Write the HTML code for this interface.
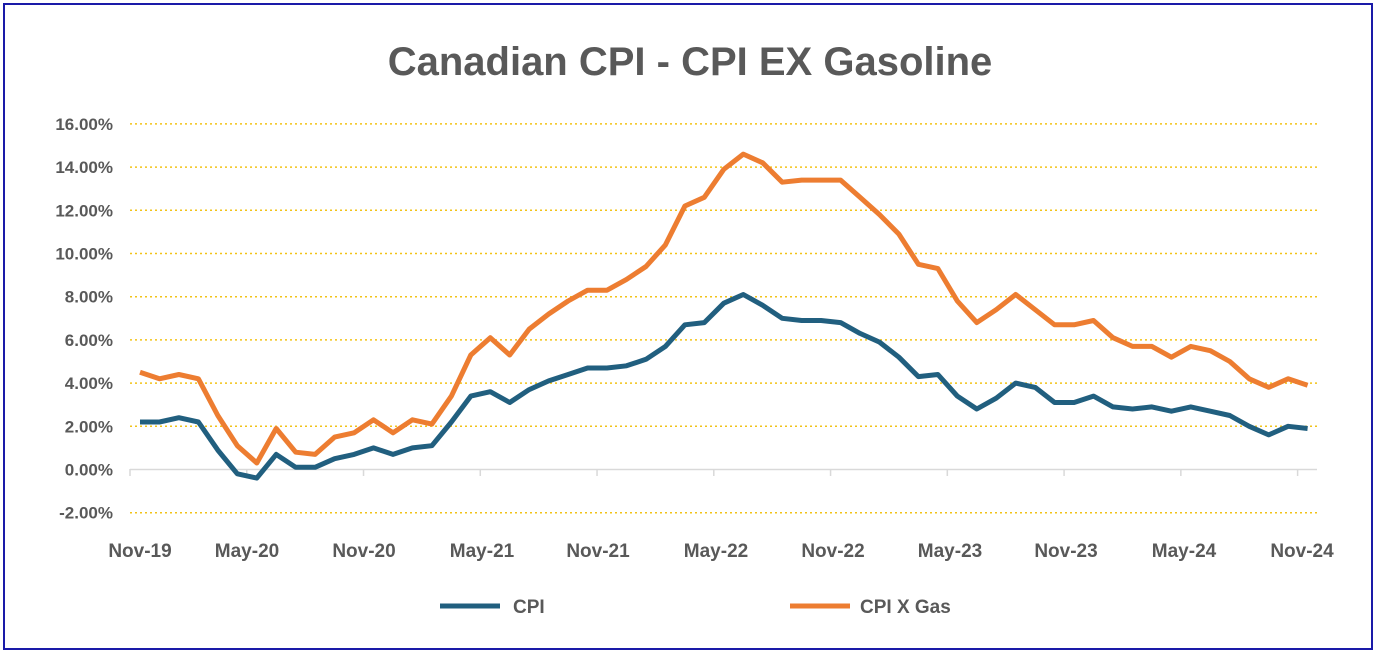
<!DOCTYPE html>
<html><head><meta charset="utf-8"><style>
html,body{margin:0;padding:0;background:#fff;}
svg{display:block;font-family:"Liberation Sans",Arial,sans-serif;}
</style></head><body>
<svg width="1377" height="654" viewBox="0 0 1377 654" xmlns="http://www.w3.org/2000/svg">
<rect x="0" y="0" width="1377" height="654" fill="#fff"/>
<rect x="4" y="4" width="1368" height="645" fill="none" stroke="#1a1aa8" stroke-width="2"/>
<text x="690" y="75" text-anchor="middle" font-size="40" font-weight="bold" fill="#595959">Canadian CPI - CPI EX Gasoline</text>
<g id="grid" stroke="#f2c318" stroke-width="1.5" stroke-dasharray="2,3"></g>
<line x1="130" y1="469.5" x2="1317" y2="469.5" stroke="#d9d9d9" stroke-width="1.5"/>
<g id="ticks" stroke="#d9d9d9" stroke-width="1.5"></g>
<g id="ylab" font-size="17" font-weight="bold" fill="#595959" text-anchor="end"></g>
<g id="xlab" font-size="19" font-weight="bold" fill="#595959" text-anchor="middle"></g>
<polyline id="gas" fill="none" stroke="#ed7d31" stroke-width="5" stroke-linejoin="round"/>
<polyline id="cpi" fill="none" stroke="#215f7f" stroke-width="5" stroke-linejoin="round"/>
<line x1="440" y1="606" x2="500" y2="606" stroke="#215f7f" stroke-width="5"/>
<text x="513" y="613" font-size="19" font-weight="bold" fill="#595959">CPI</text>
<line x1="790" y1="606" x2="850" y2="606" stroke="#ed7d31" stroke-width="5"/>
<text x="860" y="613" font-size="19" font-weight="bold" fill="#595959">CPI X Gas</text>
</svg>
<script>
var ns="http://www.w3.org/2000/svg";
function y(v){return 469.5-v*21.6;}
function x(i){return 140+19.46*i;}
var g=document.getElementById('grid'),yl=document.getElementById('ylab'),xl=document.getElementById('xlab'),tk=document.getElementById('ticks');
for(var v=-2;v<=16;v+=2){
 if(v!=0){var l=document.createElementNS(ns,'line');l.setAttribute('x1',130);l.setAttribute('x2',1317);l.setAttribute('y1',y(v));l.setAttribute('y2',y(v));g.appendChild(l);}
 var t=document.createElementNS(ns,'text');t.setAttribute('x',113);t.setAttribute('y',y(v)+6);t.textContent=v.toFixed(2)+'%';yl.appendChild(t);
}
var labs=['Nov-19','May-20','Nov-20','May-21','Nov-21','May-22','Nov-22','May-23','Nov-23','May-24','Nov-24'];
var lx=[140,247,364,482,598,716,833,950,1066,1184,1302];
for(var i=0;i<labs.length;i++){var t=document.createElementNS(ns,'text');t.setAttribute('x',lx[i]);t.setAttribute('y',557);t.textContent=labs[i];xl.appendChild(t);}
for(var i=0;i<=10;i++){var xx=130+i*6*19.46;var l=document.createElementNS(ns,'line');l.setAttribute('x1',xx);l.setAttribute('x2',xx);l.setAttribute('y1',469);l.setAttribute('y2',476);tk.appendChild(l);}
var cpi=[2.2,2.2,2.4,2.2,0.9,-0.2,-0.4,0.7,0.1,0.1,0.5,0.7,1.0,0.7,1.0,1.1,2.2,3.4,3.6,3.1,3.7,4.1,4.4,4.7,4.7,4.8,5.1,5.7,6.7,6.8,7.7,8.1,7.6,7.0,6.9,6.9,6.8,6.3,5.9,5.2,4.3,4.4,3.4,2.8,3.3,4.0,3.8,3.1,3.1,3.4,2.9,2.8,2.9,2.7,2.9,2.7,2.5,2.0,1.6,2.0,1.9];
var gas=[4.5,4.2,4.4,4.2,2.5,1.1,0.3,1.9,0.8,0.7,1.5,1.7,2.3,1.7,2.3,2.1,3.4,5.3,6.1,5.3,6.5,7.2,7.8,8.3,8.3,8.8,9.4,10.4,12.2,12.6,13.9,14.6,14.2,13.3,13.4,13.4,13.4,12.6,11.8,10.9,9.5,9.3,7.8,6.8,7.4,8.1,7.4,6.7,6.7,6.9,6.1,5.7,5.7,5.2,5.7,5.5,5.0,4.2,3.8,4.2,3.9];
function pts(a){return a.map(function(v,i){return x(i).toFixed(1)+','+y(v).toFixed(1);}).join(' ');}
document.getElementById('cpi').setAttribute('points',pts(cpi));
document.getElementById('gas').setAttribute('points',pts(gas));
</script>
</body></html>
